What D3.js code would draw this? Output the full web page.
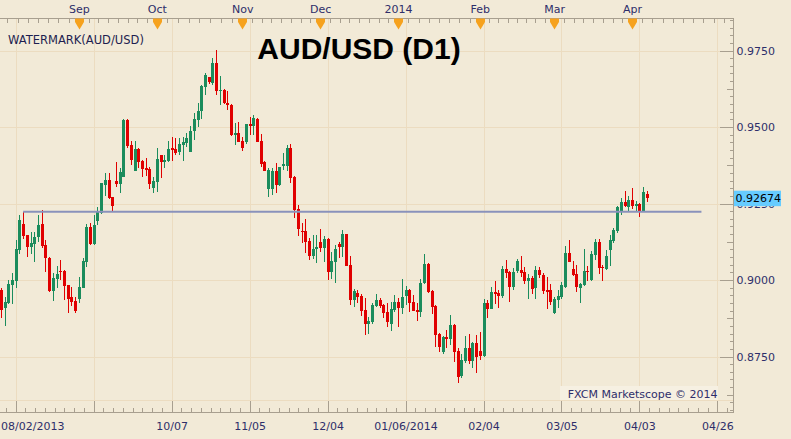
<!DOCTYPE html>
<html><head><meta charset="utf-8">
<script src="https://cdn.jsdelivr.net/npm/d3@7"></script>
<style>body{margin:0;background:#f2ead7;}svg{display:block;}</style>
</head><body>
<svg id="chart" width="791" height="439"></svg>
<script>
// ---- data (AUD/USD daily, 2013-08-02 .. 2014-04-07) ----
const opens = [
.8967,.8909,.8926,.8984,.8998,.9098,.9183,.9147,.9109,.9118,
.9140,.9183,.9114,.9071,.8965,.9002,.9029,.9029,.8984,.8945,
.8931,.8938,.8975,.9060,.9174,.9118,.9194,.9218,.9310,.9327,
.9272,.9324,.9314,.9338,.9523,.9441,.9356,.9428,.9389,.9367,
.9363,.9302,.9321,.9408,.9385,.9389,.9431,.9428,.9419,.9441,
.9447,.9419,.9488,.9523,.9553,.9632,.9662,.9645,.9708,.9619,
.9621,.9579,.9572,.9474,.9481,.9454,.9452,.9510,.9503,.9526,
.9455,.9387,.9297,.9297,.9356,.9310,.9373,.9373,.9431,.9338,
.9232,.9161,.9160,.9127,.9078,.9100,.9125,.9105,.9134,.9027,
.9060,.9118,.9107,.9149,.9049,.8935,.8958,.8949,.8902,.8856,
.8862,.8915,.8935,.8918,.8896,.8856,.8902,.8929,.8908,.8948,
.8967,.8929,.8902,.8896,.8991,.9052,.8964,.8915,.8824,.8766,
.8815,.8807,.8853,.8769,.8687,.8735,.8779,.8736,.8793,.8768,
.8752,.8924,.8905,.8962,.8957,.8948,.9036,.9027,.8978,.9030,
.9033,.9027,.8998,.9007,.8975,.9033,.9016,.8967,.8966,.8892,
.8935,.8945,.8977,.9087,.9035,.9020,.8975,.8984,.9029,.9000,
.9082,.9124,.9042,.9036,.9098,.9128,.9160,.9223,.9256,.9238,
.9261,.9242,.9248,.9223,.9281];
const highs = [
.8974,.8945,.9000,.9022,.9131,.9212,.9223,.9147,.9156,.9158,
.9212,.9229,.9131,.9075,.9022,.9046,.9065,.9033,.8984,.8978,
.8945,.9011,.9071,.9183,.9185,.9212,.9240,.9318,.9349,.9351,
.9272,.9386,.9365,.9525,.9525,.9454,.9454,.9430,.9391,.9398,
.9370,.9338,.9430,.9410,.9408,.9454,.9467,.9464,.9463,.9468,
.9480,.9503,.9545,.9577,.9636,.9675,.9664,.9725,.9752,.9667,
.9623,.9618,.9574,.9514,.9517,.9468,.9511,.9534,.9539,.9528,
.9477,.9388,.9365,.9365,.9381,.9370,.9416,.9441,.9444,.9339,
.9245,.9185,.9198,.9136,.9147,.9147,.9167,.9144,.9138,.9092,
.9114,.9125,.9163,.9151,.9078,.8970,.8967,.8954,.8940,.8880,
.8924,.8954,.8940,.8920,.8924,.8929,.8951,.8940,.9002,.8980,
.8969,.8951,.8924,.9002,.9085,.9055,.8967,.8917,.8828,.8817,
.8837,.8886,.8855,.8777,.8758,.8817,.8824,.8798,.8820,.8831,
.8938,.8935,.8978,.8997,.8967,.9046,.9065,.9030,.9038,.9068,
.9078,.9043,.9020,.9012,.9046,.9042,.9023,.9011,.8987,.8945,
.8967,.8994,.9111,.9131,.9061,.9049,.8991,.9101,.9046,.9095,
.9134,.9133,.9049,.9098,.9147,.9171,.9242,.9267,.9291,.9275,
.9300,.9259,.9253,.9305,.9291];
const lows = [
.8876,.8851,.8922,.8922,.8973,.9085,.9133,.9076,.9085,.9060,
.9125,.9104,.9027,.8961,.8932,.8973,.9000,.8935,.8893,.8915,
.8893,.8926,.8975,.9042,.9116,.9114,.9180,.9216,.9275,.9266,
.9223,.9305,.9285,.9337,.9430,.9376,.9355,.9365,.9338,.9341,
.9297,.9283,.9289,.9334,.9367,.9387,.9389,.9408,.9408,.9389,
.9436,.9419,.9457,.9499,.9525,.9605,.9640,.9637,.9605,.9572,
.9575,.9556,.9471,.9441,.9451,.9422,.9445,.9474,.9474,.9451,
.9370,.9356,.9270,.9278,.9283,.9308,.9359,.9356,.9317,.9201,
.9144,.9122,.9089,.9065,.9068,.9057,.9092,.9060,.9000,.9003,
.8991,.9073,.9076,.9045,.8918,.8913,.8924,.8882,.8820,.8824,
.8856,.8913,.8908,.8877,.8847,.8834,.8896,.8845,.8888,.8918,
.8896,.8898,.8867,.8878,.8987,.8957,.8890,.8780,.8766,.8758,
.8777,.8788,.8733,.8664,.8681,.8730,.8726,.8713,.8697,.8739,
.8750,.8877,.8904,.8922,.8909,.8942,.9008,.8929,.8967,.9024,
.9009,.8987,.8938,.8954,.8938,.9007,.8954,.8906,.8917,.8889,
.8909,.8939,.8975,.9058,.9014,.8962,.8926,.8982,.8998,.8998,
.9066,.9021,.8998,.9033,.9046,.9122,.9155,.9212,.9238,.9226,
.9231,.9223,.9207,.9222,.9254];
const closes = [
.8902,.8929,.8987,.9000,.9101,.9196,.9145,.9109,.9120,.9140,
.9180,.9111,.9071,.8965,.9008,.9020,.9027,.8981,.8938,.8929,
.8899,.8976,.9062,.9172,.9118,.9180,.9223,.9316,.9327,.9268,
.9242,.9314,.9353,.9523,.9439,.9392,.9428,.9387,.9363,.9359,
.9313,.9324,.9395,.9385,.9392,.9428,.9425,.9415,.9444,.9451,
.9463,.9487,.9526,.9553,.9634,.9670,.9648,.9708,.9619,.9621,
.9577,.9572,.9474,.9479,.9452,.9432,.9510,.9503,.9530,.9452,
.9379,.9357,.9359,.9357,.9310,.9368,.9378,.9431,.9333,.9229,
.9167,.9158,.9125,.9078,.9101,.9109,.9105,.9134,.9027,.9063,
.9101,.9109,.9149,.9047,.8935,.8964,.8945,.8900,.8856,.8866,
.8918,.8935,.8915,.8893,.8864,.8904,.8929,.8908,.8945,.8967,
.8926,.8900,.8896,.8989,.9052,.8962,.8913,.8820,.8782,.8815,
.8807,.8853,.8766,.8684,.8739,.8779,.8736,.8795,.8749,.8752,
.8924,.8905,.8960,.8954,.8949,.9036,.9024,.8978,.9027,.9062,
.9024,.8997,.9008,.8971,.9033,.9015,.8965,.8962,.8929,.8939,
.8948,.8984,.9087,.9060,.9016,.8976,.8987,.9029,.9027,.9086,
.9124,.9040,.9038,.9079,.9131,.9163,.9240,.9256,.9242,.9261,
.9243,.9248,.9223,.9287,.92674];

const monthLabels = ["Sep","Oct","Nov","Dec","2014","Feb","Mar","Apr"];
const monthIdx    = [21, 42, 65, 86, 107, 129, 149, 170];   // bar index of first day of month
const dateTickIdx = [4, 25, 46, 67, 88, 109, 130, 151, 172, 193];
const dateTickLabels = ["08/02/2013","","10/07","11/05","12/04","01/06/2014","02/04","03/05","04/03","04/26"];
const priceTicks = [0.8750, 0.9000, 0.9250, 0.9500, 0.9750];
const lastPrice = 0.92674;
const levelValue = 0.9223, levelFrom = 6, levelTo = 188.7;

// ---- drawing ----
const svg = d3.select("#chart");
const BG = "#f2ead7", GRID = "#ecdcc0", AXIS = "#a89f8f", LBL = "#2e2e6a";
const UP = "#1b8c5c", DN = "#e00000";
const FONT = "'DejaVu Sans', Verdana, sans-serif";
const PL = 0, PR = 733, PT = 18, PB = 400, AXB = 412.5;

const x = d3.scaleLinear().domain([-0.23, 197.2]).range([PL, PR]);
const y = d3.scaleLinear().domain([0.9, 0.925]).range([280, 203.5]);

svg.append("rect").attr("width", 791).attr("height", 439).attr("fill", BG);

// grid
const grid = svg.append("g").attr("shape-rendering", "crispEdges").attr("stroke", GRID);
grid.selectAll(".vg").data(dateTickIdx).join("line")
  .attr("x1", d => Math.round(x(d)) + 0.5).attr("x2", d => Math.round(x(d)) + 0.5)
  .attr("y1", PT).attr("y2", PB);
grid.selectAll(".hg").data(priceTicks).join("line")
  .attr("x1", PL).attr("x2", PR)
  .attr("y1", d => Math.round(y(d)) + 0.5).attr("y2", d => Math.round(y(d)) + 0.5);
grid.append("line").attr("x1", PL).attr("x2", PR).attr("y1", PB + 0.5).attr("y2", PB + 0.5);

// candles
const idx = d3.range(opens.length);
const isUp = i => closes[i] >= opens[i];
const cg = svg.append("g").attr("shape-rendering", "crispEdges");
cg.selectAll(".w").data(idx).join("rect")
  .attr("x", i => Math.round(x(i)))
  .attr("width", 1)
  .attr("y", i => y(highs[i]))
  .attr("height", i => Math.max(1, y(lows[i]) - y(highs[i])))
  .attr("fill", i => isUp(i) ? UP : DN);
cg.selectAll(".b").data(idx).join("rect")
  .attr("x", i => Math.round(x(i)) - 1)
  .attr("width", 3)
  .attr("y", i => y(Math.max(opens[i], closes[i])))
  .attr("height", i => Math.max(1, Math.abs(y(opens[i]) - y(closes[i]))))
  .attr("fill", i => isUp(i) ? UP : DN);

// level line
svg.append("line")
  .attr("x1", x(levelFrom)).attr("x2", x(levelTo))
  .attr("y1", y(levelValue)).attr("y2", y(levelValue))
  .attr("stroke", "#8a92bb").attr("stroke-width", 2);

// texts
svg.append("text").attr("x", 359).attr("y", 58.5).attr("text-anchor", "middle")
  .attr("font-family", "'Liberation Sans', Arial, sans-serif").attr("font-weight", "bold")
  .attr("font-size", 30).attr("fill", "#000").text("AUD/USD (D1)");
svg.append("text").attr("x", 8).attr("y", 43.5).attr("font-family", FONT).attr("font-size", 11.5)
  .attr("fill", "#1e1e50").text("WATERMARK(AUD/USD)");
svg.append("rect").attr("x", 560).attr("y", 386).attr("width", 158).attr("height", 14).attr("fill", "#f6f0e2");
svg.append("text").attr("x", 717.5).attr("y", 398).attr("text-anchor", "end").attr("font-family", FONT)
  .attr("font-size", 11).attr("fill", LBL).text("FXCM Marketscope \u00a9 2014");

// top axis
const topAx = svg.append("g").attr("transform", `translate(0,${PT + 0.5})`);
const mExt = [-1, ...monthIdx, 192];
let topMinor = [];
for (let k = 0; k < mExt.length - 1; k++)
  for (let j = 0; j < 8; j++) topMinor.push(mExt[k] + (mExt[k + 1] - mExt[k]) * j / 8);
for (let v = 192; v < 197.2; v += 22 / 8) topMinor.push(v);
topMinor = topMinor.filter(v => x(v) >= 0 && x(v) <= PR);
topAx.append("g").attr("shape-rendering", "crispEdges")
  .call(d3.axisBottom(x).tickValues(topMinor).tickSize(4).tickFormat(""))
  .call(g => g.select(".domain").remove())
  .call(g => g.selectAll("line").attr("stroke", AXIS));
topAx.append("line").attr("x1", 0).attr("x2", PR).attr("stroke", AXIS).attr("shape-rendering", "crispEdges");
topAx.selectAll(".tri").data(monthIdx).join("path")
  .attr("d", d => { const c = Math.round(x(d)) + 0.5; return `M${c-4.5},0L${c+4.5},0L${c+4.5},3.5L${c},11L${c-4.5},3.5Z`; })
  .attr("fill", "#f6a21e");
topAx.append("g")
  .call(d3.axisTop(x).tickValues(monthIdx).tickSize(0).tickPadding(6).tickFormat((d, i) => monthLabels[i]))
  .call(g => g.select(".domain").remove())
  .call(g => g.selectAll("text").attr("font-family", FONT).attr("font-size", 11).attr("fill", LBL));

// bottom axis
const botAx = svg.append("g").attr("transform", `translate(0,${AXB})`);
const botMinor = d3.range(4 - 21 / 8, 197.2, 21 / 8).filter(v => x(v) >= 0);
botAx.append("g").attr("shape-rendering", "crispEdges")
  .call(d3.axisTop(x).tickValues(botMinor).tickSize(5).tickFormat(""))
  .call(g => g.select(".domain").remove())
  .call(g => g.selectAll("line").attr("stroke", AXIS));
botAx.append("g").attr("shape-rendering", "crispEdges")
  .call(d3.axisTop(x).tickValues(dateTickIdx).tickSize(12).tickFormat(""))
  .call(g => g.select(".domain").remove())
  .call(g => g.selectAll("line").attr("stroke", AXIS));
botAx.append("line").attr("x1", 0).attr("x2", PR).attr("stroke", AXIS).attr("shape-rendering", "crispEdges");
botAx.append("g")
  .call(d3.axisBottom(x).tickValues(dateTickIdx).tickSize(0).tickPadding(10).tickFormat((d, i) => dateTickLabels[i]))
  .call(g => g.select(".domain").remove())
  .call(g => g.selectAll("text").attr("font-family", FONT).attr("font-size", 11).attr("fill", LBL))
  .call(g => g.selectAll("text").filter((d, i) => i === 0).attr("text-anchor", "start").attr("x", 0.5 - x(dateTickIdx[0])));

// right axis
const rAx = svg.append("g").attr("transform", `translate(${PR + 0.5},0)`);
const allMinor = d3.range(0.8575, 0.9851, 0.0025).map(v => +v.toFixed(4));
const isMajor = v => Math.abs(v * 40 - Math.round(v * 40)) < 1e-6;
const isMid = v => !isMajor(v) && Math.abs(v * 80 - Math.round(v * 80)) < 1e-6;
rAx.append("g").attr("shape-rendering", "crispEdges")
  .call(d3.axisLeft(y).tickValues(allMinor.filter(v => !isMajor(v) && !isMid(v))).tickSize(4).tickFormat(""))
  .call(g => g.select(".domain").remove())
  .call(g => g.selectAll("line").attr("stroke", AXIS));
rAx.append("g").attr("shape-rendering", "crispEdges")
  .call(d3.axisLeft(y).tickValues(allMinor.filter(isMid)).tickSize(7).tickFormat(""))
  .call(g => g.select(".domain").remove())
  .call(g => g.selectAll("line").attr("stroke", AXIS));
rAx.append("g").attr("shape-rendering", "crispEdges")
  .call(d3.axisLeft(y).tickValues(priceTicks).tickSize(14).tickFormat(""))
  .call(g => g.select(".domain").remove())
  .call(g => g.selectAll("line").attr("stroke", AXIS));
rAx.append("line").attr("y1", PT).attr("y2", AXB + 0.5).attr("stroke", AXIS).attr("shape-rendering", "crispEdges");
rAx.append("g")
  .call(d3.axisRight(y).tickValues(priceTicks).tickSize(0).tickPadding(3).tickFormat(d3.format(".4f")))
  .call(g => g.select(".domain").remove())
  .call(g => g.selectAll("text").attr("font-family", FONT).attr("font-size", 11).attr("fill", LBL));

// last price tag (drawn over the 0.9250 label, as in the original)
const yp = y(lastPrice);
svg.append("rect").attr("x", 734).attr("y", yp - 7.5).attr("width", 47).attr("height", 15.5).attr("fill", "#66ccff");
svg.append("text").attr("x", 735.5).attr("y", yp).attr("dy", "0.35em").attr("font-family", FONT)
  .attr("font-size", 11).attr("fill", "#000").text(d3.format(".5f")(lastPrice));
</script>
</body></html>
